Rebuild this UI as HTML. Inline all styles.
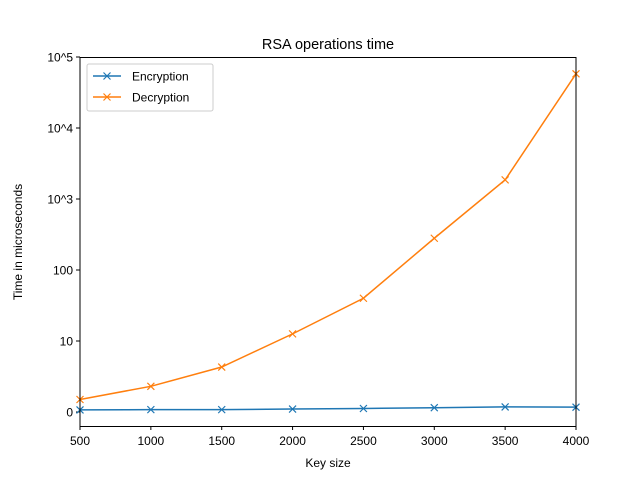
<!DOCTYPE html>
<html><head><meta charset="utf-8"><style>
body{margin:0;background:#fff;}
svg{display:block;font-family:"Liberation Sans","DejaVu Sans",sans-serif;}
</style></head><body>
<svg id="chart" width="640" height="480">
<rect x="0" y="0" width="640" height="480" fill="#fff"/>
<text x="328" y="49" font-size="14.5" text-anchor="middle">RSA operations time</text>
<g id="plot"></g>
<rect x="80" y="57.5" width="496" height="369" fill="none" stroke="#000" stroke-width="1"/>
<text x="328" y="467" font-size="12" text-anchor="middle">Key size</text>
<text x="22" y="242" font-size="12" text-anchor="middle" transform="rotate(-90 22 242)">Time in microseconds</text>
<g>
<rect x="87" y="64" width="126" height="47" rx="2" fill="#fff" stroke="#ccc"/>
<line x1="93" y1="76" x2="121" y2="76" stroke="#1f77b4" stroke-width="1.5"/>
<path d="M103.5,72.5l7,7M110.5,72.5l-7,7" stroke="#1f77b4" stroke-width="1.2"/>
<text x="132" y="80.5" font-size="12">Encryption</text>
<line x1="93" y1="97" x2="121" y2="97" stroke="#ff7f0e" stroke-width="1.5"/>
<path d="M103.5,93.5l7,7M110.5,93.5l-7,7" stroke="#ff7f0e" stroke-width="1.2"/>
<text x="132" y="101.5" font-size="12">Decryption</text>
</g>
</svg>
<script>
const keySizes=[500,1000,1500,2000,2500,3000,3500,4000];
const encryption=[1.07,1.08,1.08,1.1,1.12,1.15,1.18,1.17];
const decryption=[1.5,2.3,4.3,12.6,40,280,1860,58000];
const xTicks=[500,1000,1500,2000,2500,3000,3500,4000];
const yTickExps=[0,1,2,3,4,5];
const yTickLabels=["0","10","100","10^3","10^4","10^5"];
const NS="http://www.w3.org/2000/svg";
const g=document.getElementById('plot');
function xs(v){return 80+(v-500)/3500*496;}
function ys(v){return 412-Math.log10(v)*71;}
function mk(t,a){const e=document.createElementNS(NS,t);for(const k in a)e.setAttribute(k,a[k]);g.appendChild(e);return e;}
xTicks.forEach(t=>{const x=xs(t);
const l=mk('line',{x1:x,y1:426.5,x2:x,y2:430,stroke:'#000'});


const tx=mk('text',{x:x,y:445,'font-size':12,'text-anchor':'middle'});tx.textContent=t;

});
yTickExps.forEach((e,i)=>{const y=ys(Math.pow(10,e));
const l=mk('line',{x1:76,y1:y,x2:80,y2:y,stroke:'#000'});


const tx=mk('text',{x:73,y:y+4.5,'font-size':12,'text-anchor':'end'});tx.textContent=yTickLabels[i];

});
function series(vals,color,name){
const pts=vals.map((v,i)=>[xs(keySizes[i]),ys(v)]);
const p=mk('polyline',{points:pts.map(p=>p.join(',')).join(' '),fill:'none',stroke:color,'stroke-width':1.5});


pts.forEach(([x,y])=>{const m=mk('path',{d:`M${x-3.5},${y-3.5}l7,7M${x+3.5},${y-3.5}l-7,7`,stroke:color,'stroke-width':1.2});

});}
series(encryption,'#1f77b4','encryption');
series(decryption,'#ff7f0e','decryption');
</script>
</body></html>
